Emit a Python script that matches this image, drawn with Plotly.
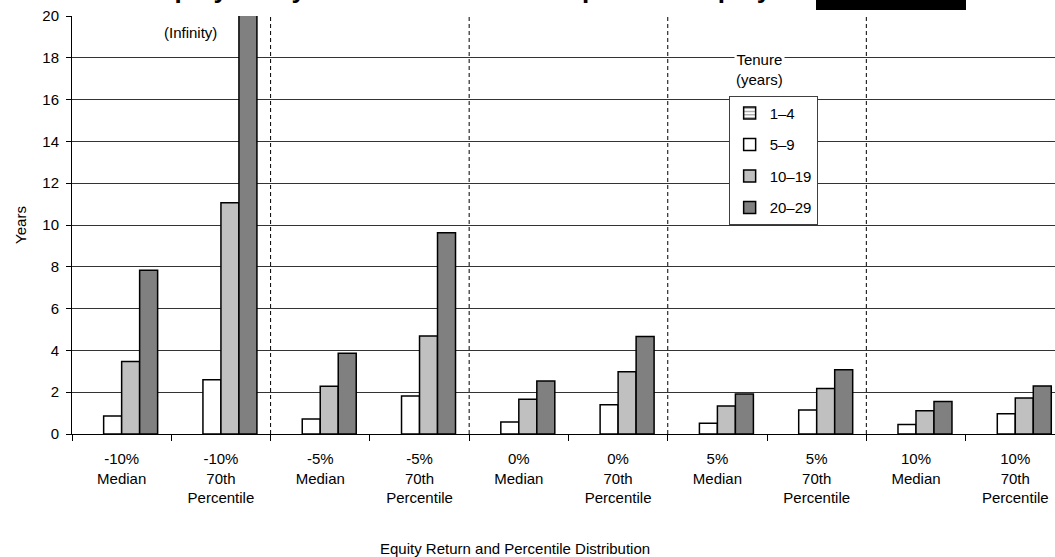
import plotly.graph_objects as go

categories = ["-10%<br>Median", "-10%<br>70th<br>Percentile",
              "-5%<br>Median", "-5%<br>70th<br>Percentile",
              "0%<br>Median", "0%<br>70th<br>Percentile",
              "5%<br>Median", "5%<br>70th<br>Percentile",
              "10%<br>Median", "10%<br>70th<br>Percentile"]

tenure_1_4 = [None] * 10
tenure_5_9 = [0.86, 2.60, 0.72, 1.82, 0.57, 1.40, 0.51, 1.15, 0.45, 0.97]
tenure_10_19 = [3.47, 11.07, 2.28, 4.69, 1.66, 2.98, 1.34, 2.18, 1.11, 1.72]
tenure_20_29 = [7.83, 20.3, 3.86, 9.63, 2.54, 4.66, 1.91, 3.08, 1.55, 2.30]

series_names = ["1\u20134", "5\u20139", "10\u201319", "20\u201329"]
y_ticks = [0, 2, 4, 6, 8, 10, 12, 14, 16, 18, 20]

FONT = "Liberation Sans, Arial, sans-serif"

fig = go.Figure()
fig.add_trace(go.Bar(x=categories, y=tenure_1_4, name=series_names[0], legendgroup="a",
                     marker=dict(color="white", line=dict(color="black", width=1.5),
                                 pattern=dict(shape="-", fgcolor="#333333", bgcolor="white", size=4, solidity=0.4))))
fig.add_trace(go.Bar(x=categories, y=tenure_5_9, name=series_names[1], legendgroup="b",
                     marker=dict(color="white", line=dict(color="black", width=1.5))))
fig.add_trace(go.Bar(x=categories, y=tenure_10_19, name=series_names[2], legendgroup="c",
                     marker=dict(color="#c0c0c0", line=dict(color="black", width=1.5))))
fig.add_trace(go.Bar(x=categories, y=tenure_20_29, name=series_names[3], legendgroup="d",
                     marker=dict(color="#808080", line=dict(color="black", width=1.5))))

# dashed separators between equity-return groups
for xv in [1.5, 3.5, 5.5, 7.5]:
    fig.add_shape(type="line", xref="x", yref="paper", x0=xv, x1=xv, y0=0, y1=1,
                  line=dict(color="black", width=1, dash="4px,3px"))

fig.update_layout(
    width=1055, height=557,
    margin=dict(l=72, r=0, t=16, b=123, autoexpand=False),
    paper_bgcolor="white", plot_bgcolor="white",
    font=dict(family=FONT, size=15, color="black"),
    barmode="group", bargap=0.275, bargroupgap=0,
    showlegend=True,
    legend=dict(x=0.668, y=0.809, xanchor="left", yanchor="top",
                bgcolor="white", bordercolor="#404040", borderwidth=1,
                font=dict(size=15), tracegroupgap=9, itemwidth=30),
    xaxis=dict(type="category", range=[-0.5, 9.4], showline=True, linecolor="black",
               linewidth=1, ticks="outside", ticklen=6, tickcolor="black",
               tickson="boundaries", showgrid=False, tickfont=dict(size=15),
               ticklabelstandoff=11, automargin=False),
    yaxis=dict(range=[0, 20], tickvals=y_ticks, showline=True, linecolor="black",
               linewidth=1, ticks="outside", ticklen=5, tickcolor="black",
               showgrid=True, gridcolor="#333333", gridwidth=1, zeroline=False,
               title=dict(text="Years", font=dict(size=15), standoff=12),
               tickfont=dict(size=15), ticklabelstandoff=4, automargin=False),
    annotations=[
        dict(text="(Infinity)", x=0.69, y=19.2, xref="x", yref="y", showarrow=False,
             font=dict(size=15)),
        dict(text="Tenure<br>(years)", x=0.6995, y=0.873, xref="paper", yref="paper",
             showarrow=False, bgcolor="white", font=dict(size=15), yanchor="middle",
             xanchor="center"),
        dict(text="Equity Return and Percentile Distribution", x=0.4507, y=-0.273,
             xref="paper", yref="paper", showarrow=False, yanchor="middle",
             xanchor="center", font=dict(size=15)),
        dict(text="<b>Employer Payback Period for Plan Sponsor Employer</b>", x=0.40,
             y=1.024, xref="paper", yref="paper", showarrow=False, yanchor="bottom",
             xanchor="center", font=dict(size=26)),
    ],
)
# redaction box in the title
fig.add_shape(type="rect", xref="paper", yref="paper",
              x0=(816 - 72) / 983, x1=(966 - 72) / 983, y0=1 + 6 / 418, y1=1.08,
              fillcolor="black", line=dict(width=0))

fig.write_html("out.html", config={"displayModeBar": False},
               post_script="document.body.style.margin='0';document.body.style.overflow='hidden';")
